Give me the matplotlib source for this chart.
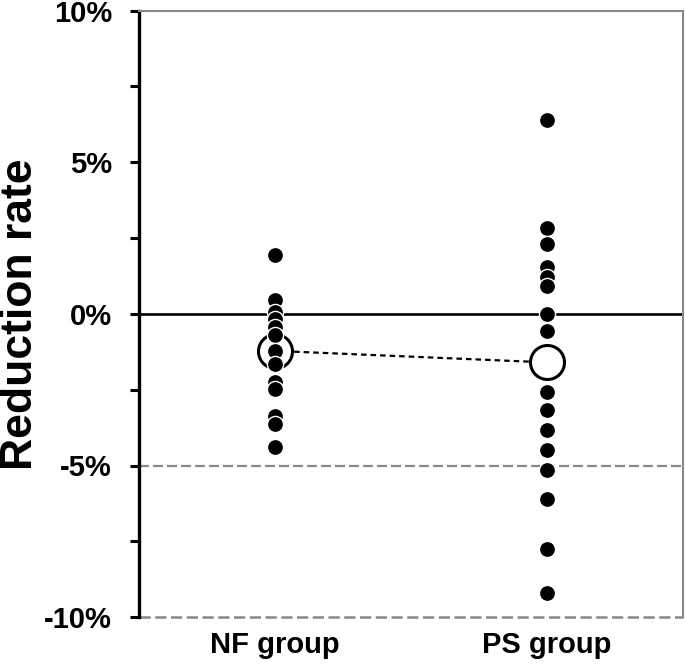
import numpy as np
import matplotlib
matplotlib.use("Agg")
import matplotlib.pyplot as plt

plt.rcParams['font.family'] = ['Liberation Sans', 'DejaVu Sans']
plt.rcParams['font.weight'] = 'bold'

# ---- data (reduction rate, %) ----
groups = ["NF group", "PS group"]
nf_vals = [1.95, 0.46, 0.07, -0.17, -0.43, -0.69, -1.22, -1.65,
           -2.24, -2.48, -3.37, -3.63, -4.39]
ps_vals = [6.41, 2.83, 2.31, 1.54, 1.21, 0.93, 0.0, -0.55, -2.56,
           -3.17, -3.82, -4.48, -5.15, -6.10, -7.76, -9.22]
group_means = [-1.22, -1.60]
yticks = [-10, -5, 0, 5, 10]

fig = plt.figure(figsize=(6.85, 6.65), dpi=100)
ax = fig.add_axes([0.203, 0.072, 0.794, 0.912])

xpos = [1, 2]

# reference lines
ax.axhline(0, color="black", lw=1.9, zorder=1)
ax.axhline(-5, color="#888888", lw=1.6, ls=(0, (4.5, 1.8)), zorder=1)
ax.axhline(-10, color="#888888", lw=1.8, ls=(0, (4.5, 1.8)), zorder=1, clip_on=False)

# mean line + open circles
ax.plot(xpos, group_means, color="black", lw=1.6, ls=(0, (2.5, 1.8)), zorder=2)
ax.scatter(xpos, group_means, s=600, facecolor="white", edgecolor="black",
           linewidth=2.2, zorder=3)

# individual values
for x, vals in zip(xpos, [nf_vals, ps_vals]):
    ax.scatter([x] * len(vals), vals, s=135, color="black",
               edgecolor="white", linewidth=1.0, zorder=4)

ax.set_xlim(0.5, 2.5)
ax.set_ylim(-10, 10)
ax.set_yticks(yticks)
ax.set_yticklabels([f"{v}%" for v in yticks], fontsize=21, fontweight="bold")
ax.set_yticks(np.arange(-7.5, 10, 5), minor=True)
ax.tick_params(axis="y", which="both", direction="out", length=6.5, width=2.2, pad=13)
ax.set_xticks(xpos)
ax.set_xticklabels(groups, fontsize=21, fontweight="bold")
ax.tick_params(axis="x", length=0, pad=10)

ax.spines["left"].set_linewidth(2.4)
ax.spines["left"].set_color("black")
for s in ["top", "right"]:
    ax.spines[s].set_color("#888888")
    ax.spines[s].set_linewidth(1.5)
ax.spines["bottom"].set_visible(False)

ax.set_ylabel("Reduction rate", fontsize=32, fontweight="bold")
ax.yaxis.set_label_coords(-0.18, 0.5)

fig.savefig("out.png", dpi=100)
